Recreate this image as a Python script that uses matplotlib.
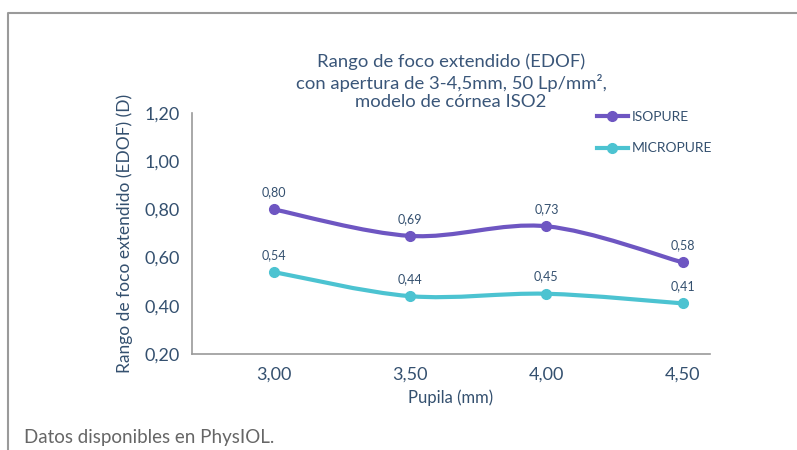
import matplotlib
matplotlib.use("Agg")
import numpy as np
from matplotlib import pyplot as plt
from matplotlib.path import Path
from matplotlib.patches import PathPatch
from matplotlib.lines import Line2D

# data
pupila = [3.00, 3.50, 4.00, 4.50]
isopure = [0.80, 0.69, 0.73, 0.58]
micropure = [0.54, 0.44, 0.45, 0.41]
y_ticks = [0.20, 0.40, 0.60, 0.80, 1.00, 1.20]

c_iso = "#6e56c2"
c_micro = "#4cc3d1"
c_text = "#34506f"

plt.rcParams["font.family"] = ["Lato", "DejaVu Sans"]

fig = plt.figure(figsize=(7.97, 4.5), dpi=100)
ax = fig.add_axes([192 / 797, 1 - 354 / 450, 518 / 797, 241 / 450])


def smooth_path(xs, ys):
    # Bezier path through the points (like a spreadsheet "smoothed line")
    pts = np.column_stack([xs, ys])
    n = len(pts)
    verts = [pts[0]]
    codes = [Path.MOVETO]
    for i in range(n - 1):
        p0 = pts[max(i - 1, 0)]
        p1 = pts[i]
        p2 = pts[i + 1]
        p3 = pts[min(i + 2, n - 1)]
        verts += [p1 + (p2 - p0) / 6, p2 - (p3 - p1) / 6, p2]
        codes += [Path.CURVE4] * 3
    return Path(verts, codes)


for vals, col in [(isopure, c_iso), (micropure, c_micro)]:
    ax.add_patch(PathPatch(smooth_path(pupila, vals), facecolor="none",
                           edgecolor=col, lw=3, capstyle="round", zorder=2))
    ax.plot(pupila, vals, "o", color=col, ms=7, zorder=3)
    for x, v in zip(pupila, vals):
        ax.annotate(f"{v:.2f}".replace(".", ","), (x, v), xytext=(0, 8),
                    textcoords="offset points", ha="center", va="bottom",
                    fontsize=9, color=c_text)

ax.set_xlim(2.7, 4.6)
ax.set_ylim(0.20, 1.20)
ax.set_xticks(pupila)
ax.set_xticklabels([f"{p:.2f}".replace(".", ",") for p in pupila])
ax.set_yticks(y_ticks)
ax.set_yticklabels([f"{t:.2f}".replace(".", ",") for t in y_ticks])
ax.tick_params(length=0, labelsize=13, colors=c_text)
ax.tick_params(axis="x", pad=9)
ax.tick_params(axis="y", pad=9)
for s in ["top", "right"]:
    ax.spines[s].set_visible(False)
for s in ["left", "bottom"]:
    ax.spines[s].set_color("#9a9a9a")
    ax.spines[s].set_linewidth(1.2)

ax.set_xlabel("Pupila (mm)", fontsize=12, color=c_text, labelpad=5)
ax.set_ylabel("Rango de foco extendido (EDOF) (D)", fontsize=12.5, color=c_text, labelpad=8)

fig.text(451 / 797, 1 - 82 / 450,
         "Rango de foco extendido (EDOF)\ncon apertura de 3-4,5mm, 50 Lp/mm²,\nmodelo de córnea ISO2",
         ha="center", va="center", fontsize=13.3, color="#3a5679", linespacing=1.22)

handles = [Line2D([], [], color=c_iso, lw=3, marker="o", ms=7),
           Line2D([], [], color=c_micro, lw=3, marker="o", ms=7)]
fig.legend(handles, ["ISOPURE", "MICROPURE"], loc="upper left",
           bbox_to_anchor=(597 / 797, 1 - 111 / 450), frameon=False,
           fontsize=10, labelcolor=c_text, handlelength=2.2, handletextpad=0.3,
           labelspacing=1.4, borderpad=0, borderaxespad=0)

fig.text(24 / 797, 1 - 438 / 450, "Datos disponibles en PhysIOL.",
         ha="left", va="center", fontsize=13.5, color="#666666")

# outer frame: top and left edges
fig.add_artist(Line2D([8 / 797, 8 / 797, 1], [0, 1 - 13 / 450, 1 - 13 / 450],
                      transform=fig.transFigure, color="#9a9a9a", lw=1.5))

fig.savefig("out.png", dpi=100)
